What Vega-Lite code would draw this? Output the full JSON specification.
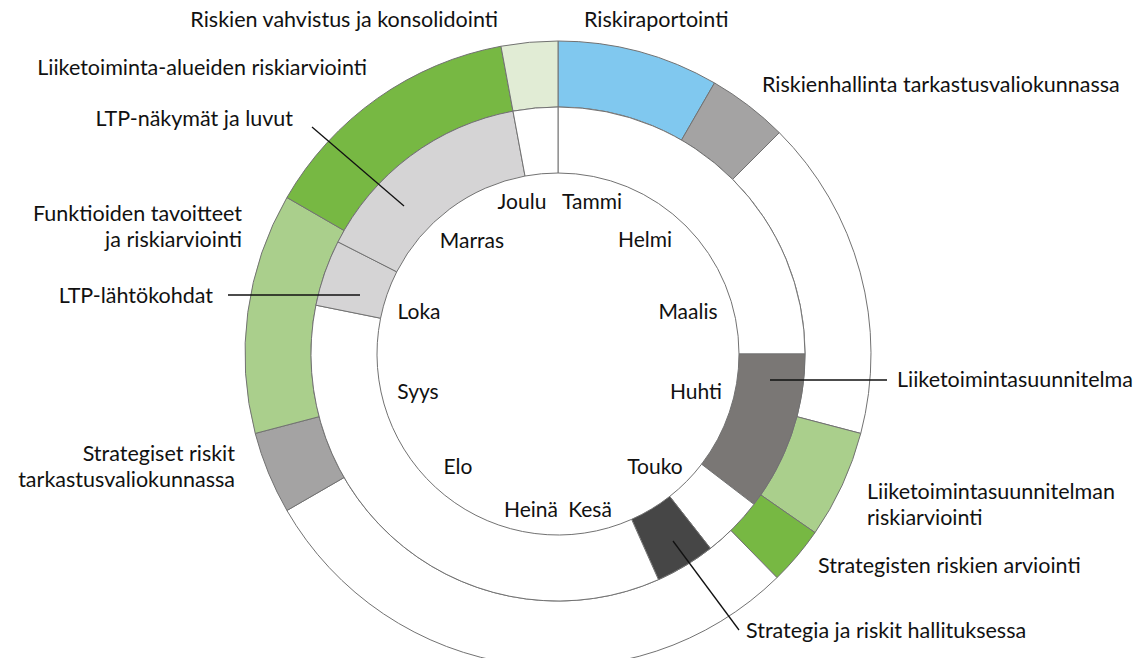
{
  "$schema": "https://vega.github.io/schema/vega-lite/v6.json",
  "width": 1116,
  "height": 708,
  "autosize": "none",
  "padding": {"left": 0, "top": 0, "right": 18, "bottom": 0},
  "background": "white",
  "config": {"view": {"stroke": null}, "font": "Lato"},
  "datasets": {
    "segmentit": [
      {"toiminto": "Riskiraportointi", "alku": 0, "loppu": 1, "kehä_sisä": 2, "kehä_ulko": 3},
      {"toiminto": "Riskienhallinta tarkastusvaliokunnassa", "alku": 1, "loppu": 1.5, "kehä_sisä": 2, "kehä_ulko": 3},
      {"toiminto": "tyhjä", "alku": 1.5, "loppu": 3.49, "kehä_sisä": 2, "kehä_ulko": 3},
      {"toiminto": "Liiketoimintasuunnitelman riskiarviointi", "alku": 3.49, "loppu": 4.16, "kehä_sisä": 2, "kehä_ulko": 3},
      {"toiminto": "Strategisten riskien arviointi", "alku": 4.16, "loppu": 4.52, "kehä_sisä": 2, "kehä_ulko": 3},
      {"toiminto": "tyhjä", "alku": 4.52, "loppu": 8.0, "kehä_sisä": 2, "kehä_ulko": 3},
      {"toiminto": "Strategiset riskit tarkastusvaliokunnassa", "alku": 8.0, "loppu": 8.51, "kehä_sisä": 2, "kehä_ulko": 3},
      {"toiminto": "Funktioiden tavoitteet ja riskiarviointi", "alku": 8.51, "loppu": 10.0, "kehä_sisä": 2, "kehä_ulko": 3},
      {"toiminto": "Liiketoiminta-alueiden riskiarviointi", "alku": 10.0, "loppu": 11.65, "kehä_sisä": 2, "kehä_ulko": 3},
      {"toiminto": "Riskien vahvistus ja konsolidointi", "alku": 11.65, "loppu": 12, "kehä_sisä": 2, "kehä_ulko": 3},
      {"toiminto": "tyhjä", "alku": 0, "loppu": 3.0, "kehä_sisä": 1, "kehä_ulko": 2},
      {"toiminto": "Liiketoimintasuunnitelma", "alku": 3.0, "loppu": 4.25, "kehä_sisä": 1, "kehä_ulko": 2},
      {"toiminto": "tyhjä", "alku": 4.25, "loppu": 4.73, "kehä_sisä": 1, "kehä_ulko": 2},
      {"toiminto": "Strategia ja riskit hallituksessa", "alku": 4.73, "loppu": 5.2, "kehä_sisä": 1, "kehä_ulko": 2},
      {"toiminto": "tyhjä", "alku": 5.2, "loppu": 9.38, "kehä_sisä": 1, "kehä_ulko": 2},
      {"toiminto": "LTP-lähtökohdat", "alku": 9.38, "loppu": 9.9, "kehä_sisä": 1, "kehä_ulko": 2},
      {"toiminto": "LTP-näkymät ja luvut", "alku": 9.9, "loppu": 11.65, "kehä_sisä": 1, "kehä_ulko": 2},
      {"toiminto": "tyhjä", "alku": 11.65, "loppu": 12, "kehä_sisä": 1, "kehä_ulko": 2}
    ],
    "kuukaudet": [
      {"kuukausi": "Tammi", "x": 34, "y": 151},
      {"kuukausi": "Helmi", "x": 87, "y": 113},
      {"kuukausi": "Maalis", "x": 130, "y": 41},
      {"kuukausi": "Huhti", "x": 138, "y": -39},
      {"kuukausi": "Touko", "x": 97, "y": -114},
      {"kuukausi": "Kesä", "x": 32, "y": -157},
      {"kuukausi": "Heinä", "x": -27, "y": -157},
      {"kuukausi": "Elo", "x": -100, "y": -114},
      {"kuukausi": "Syys", "x": -140, "y": -39},
      {"kuukausi": "Loka", "x": -139, "y": 41},
      {"kuukausi": "Marras", "x": -86, "y": 112},
      {"kuukausi": "Joulu", "x": -36, "y": 151}
    ],
    "tekstit": [
      {"teksti": "Riskien vahvistus ja konsolidointi", "puoli": "vasen", "x": -60, "y": 333},
      {"teksti": "Riskiraportointi", "puoli": "oikea", "x": 26, "y": 333},
      {"teksti": "Liiketoiminta-alueiden riskiarviointi", "puoli": "vasen", "x": -191, "y": 285},
      {"teksti": "Riskienhallinta tarkastusvaliokunnassa", "puoli": "oikea", "x": 204, "y": 268},
      {"teksti": "LTP-näkymät ja luvut", "puoli": "vasen", "x": -265, "y": 234},
      {"teksti": "Funktioiden tavoitteet", "puoli": "vasen", "x": -316, "y": 139},
      {"teksti": "ja riskiarviointi", "puoli": "vasen", "x": -316, "y": 113},
      {"teksti": "LTP-lähtökohdat", "puoli": "vasen", "x": -345, "y": 57},
      {"teksti": "Liiketoimintasuunnitelma", "puoli": "oikea", "x": 339, "y": -27},
      {"teksti": "Strategiset riskit", "puoli": "vasen", "x": -323, "y": -101},
      {"teksti": "tarkastusvaliokunnassa", "puoli": "vasen", "x": -323, "y": -127},
      {"teksti": "Liiketoimintasuunnitelman", "puoli": "oikea", "x": 309, "y": -139},
      {"teksti": "riskiarviointi", "puoli": "oikea", "x": 309, "y": -165},
      {"teksti": "Strategisten riskien arviointi", "puoli": "oikea", "x": 260, "y": -213},
      {"teksti": "Strategia ja riskit hallituksessa", "puoli": "oikea", "x": 188, "y": -278}
    ],
    "viivat": [
      {"kohde": "LTP-näkymät ja luvut", "x": -246, "y": 227, "x2": -154, "y2": 148},
      {"kohde": "LTP-lähtökohdat", "x": -330, "y": 59, "x2": -198, "y2": 59},
      {"kohde": "Liiketoimintasuunnitelma", "x": 212, "y": -26, "x2": 329, "y2": -26},
      {"kohde": "Strategia ja riskit hallituksessa", "x": 115, "y": -187, "x2": 181, "y2": -276}
    ]
  },
  "layer": [
    {
      "data": {"name": "segmentit"},
      "mark": {"type": "arc", "stroke": "#727272", "strokeWidth": 1},
      "encoding": {
        "theta": {"field": "alku", "type": "quantitative", "stack": null, "scale": {"domain": [0, 12], "range": [0, 6.283185307179586]}},
        "theta2": {"field": "loppu"},
        "radius": {"field": "kehä_sisä", "type": "quantitative", "scale": {"type": "linear", "domain": [1, 3], "range": [181, 313], "zero": false}},
        "radius2": {"field": "kehä_ulko"},
        "color": {
          "field": "toiminto", "type": "nominal", "legend": null,
          "scale": {
            "domain": ["Riskiraportointi", "Riskienhallinta tarkastusvaliokunnassa", "Strategiset riskit tarkastusvaliokunnassa", "Liiketoimintasuunnitelman riskiarviointi", "Funktioiden tavoitteet ja riskiarviointi", "Strategisten riskien arviointi", "Liiketoiminta-alueiden riskiarviointi", "Riskien vahvistus ja konsolidointi", "Liiketoimintasuunnitelma", "Strategia ja riskit hallituksessa", "LTP-lähtökohdat", "LTP-näkymät ja luvut", "tyhjä"],
            "range": ["#80c8ef", "#a4a3a3", "#a4a3a3", "#aacf8c", "#aacf8c", "#77b843", "#77b843", "#e1ecd5", "#7a7775", "#464646", "#d5d4d5", "#d5d4d5", "#ffffff"]
          }
        }
      }
    },
    {
      "data": {"name": "viivat"},
      "mark": {"type": "rule", "color": "#111111", "strokeWidth": 1.3},
      "encoding": {
        "x": {"field": "x", "type": "quantitative", "axis": null, "scale": {"domain": [-558, 558], "nice": false, "zero": false}},
        "y": {"field": "y", "type": "quantitative", "axis": null, "scale": {"domain": [-354, 354], "nice": false, "zero": false}},
        "x2": {"field": "x2"},
        "y2": {"field": "y2"}
      }
    },
    {
      "data": {"name": "kuukaudet"},
      "mark": {"type": "text", "align": "center", "baseline": "middle", "fontSize": 21, "color": "#111111"},
      "encoding": {
        "x": {"field": "x", "type": "quantitative", "axis": null, "scale": {"domain": [-558, 558], "nice": false, "zero": false}},
        "y": {"field": "y", "type": "quantitative", "axis": null, "scale": {"domain": [-354, 354], "nice": false, "zero": false}},
        "text": {"field": "kuukausi"}
      }
    },
    {
      "data": {"name": "tekstit"},
      "transform": [{"filter": "datum.puoli === 'vasen'"}],
      "mark": {"type": "text", "align": "right", "baseline": "middle", "fontSize": 21.5, "color": "#111111"},
      "encoding": {
        "x": {"field": "x", "type": "quantitative", "axis": null, "scale": {"domain": [-558, 558], "nice": false, "zero": false}},
        "y": {"field": "y", "type": "quantitative", "axis": null, "scale": {"domain": [-354, 354], "nice": false, "zero": false}},
        "text": {"field": "teksti"}
      }
    },
    {
      "data": {"name": "tekstit"},
      "transform": [{"filter": "datum.puoli === 'oikea'"}],
      "mark": {"type": "text", "align": "left", "baseline": "middle", "fontSize": 21.5, "color": "#111111"},
      "encoding": {
        "x": {"field": "x", "type": "quantitative", "axis": null, "scale": {"domain": [-558, 558], "nice": false, "zero": false}},
        "y": {"field": "y", "type": "quantitative", "axis": null, "scale": {"domain": [-354, 354], "nice": false, "zero": false}},
        "text": {"field": "teksti"}
      }
    }
  ]
}
